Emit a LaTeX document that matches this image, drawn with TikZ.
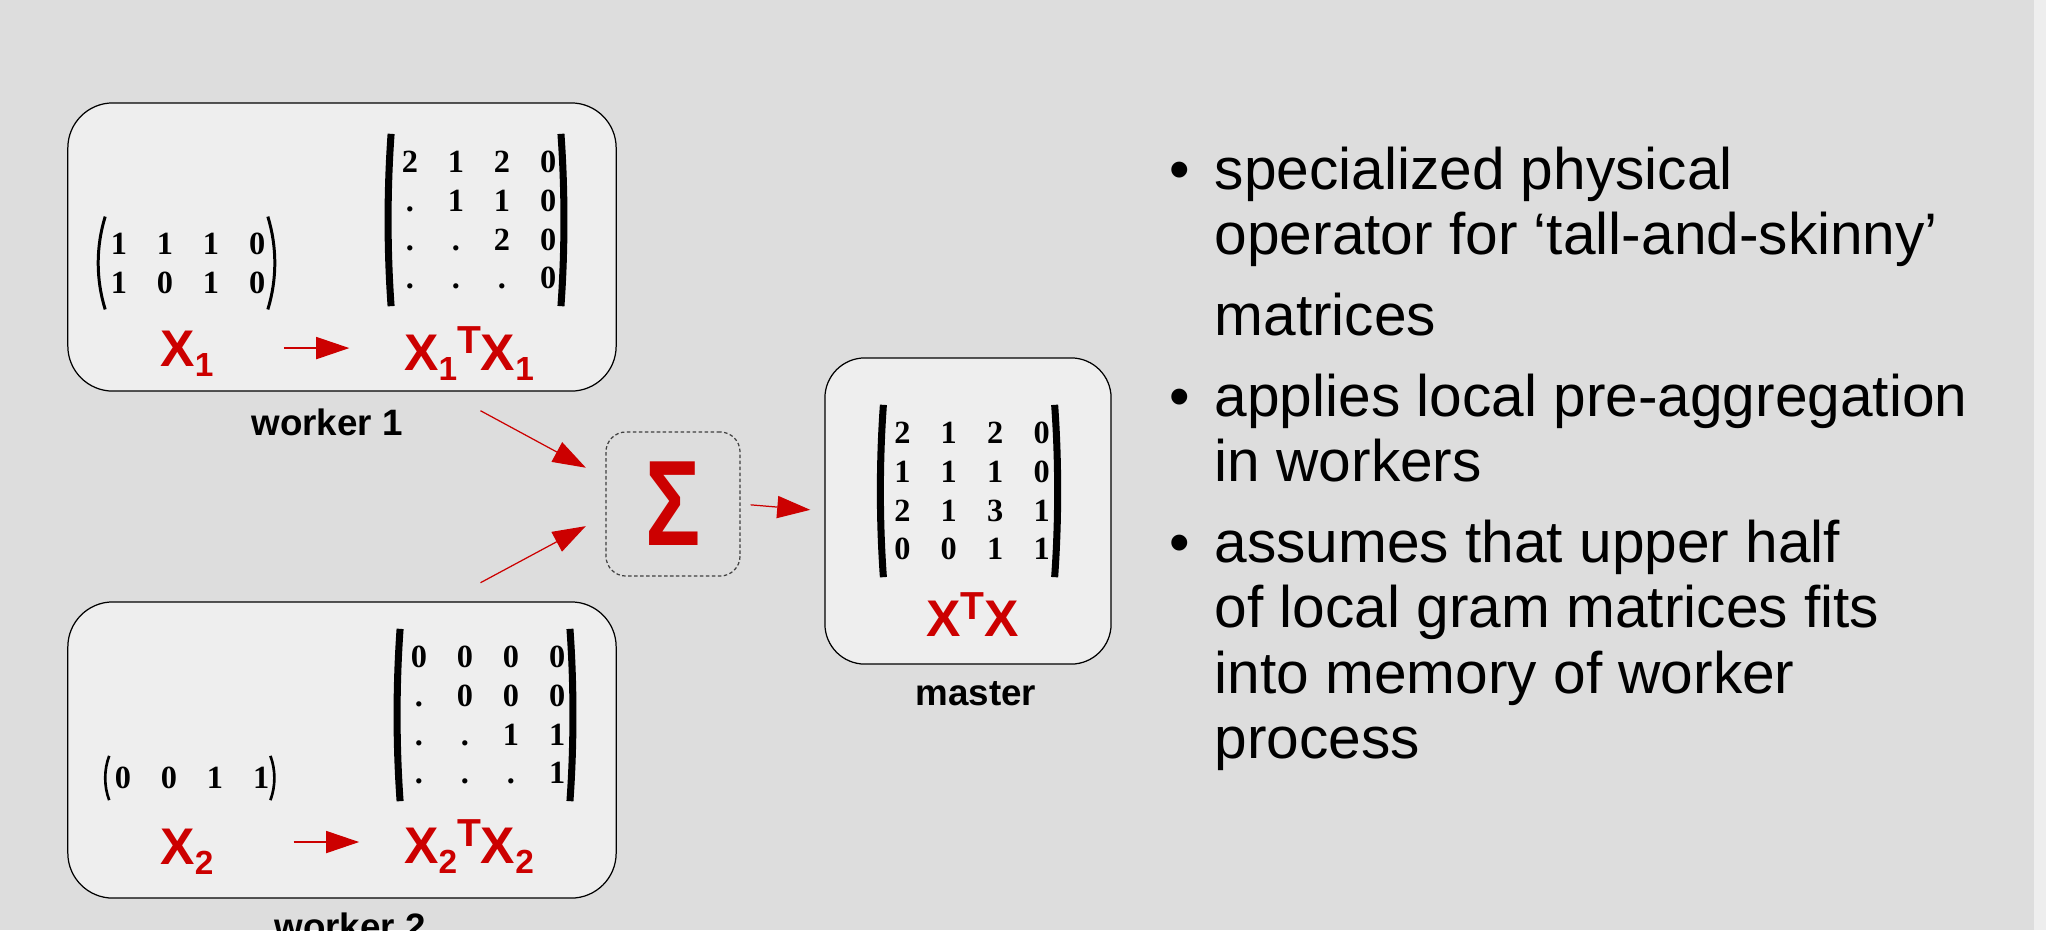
\documentclass[tikz,border=0pt]{standalone}
\usepackage{fontspec}
\usepackage{graphicx}
\setmainfont{Liberation Sans}
\newfontfamily\matfont{Liberation Serif}
\usetikzlibrary{matrix,arrows.meta}
\definecolor{slidebg}{HTML}{DDDDDD}
\definecolor{boxfill}{HTML}{EEEEEE}
\definecolor{hlred}{HTML}{CC0000}

% index and transpose marks of the red labels
\newcommand\subidx[1]{\raisebox{-3.1pt}{\fontsize{9.5}{9.5}\selectfont #1}}
\newcommand\trsp{\raisebox{4.8pt}{\fontsize{11.1}{11.1}\selectfont T}}
% parentheses round a matrix: name, overhang, ctrl y, ctrl x, width, left inset, right inset
\newcommand\matparens[7]{%
  \draw[line width=#5] ([xshift=#6,yshift=#2]#1.north west) .. controls +(-#4,-#3) and +(-#4,#3) .. ([xshift=#6,yshift=-#2]#1.south west);
  \draw[line width=#5] ([xshift=-#7,yshift=#2]#1.north east) .. controls +(#4,-#3) and +(#4,#3) .. ([xshift=-#7,yshift=-#2]#1.south east);}

\begin{document}
\begin{tikzpicture}[x=0.01cm, y=-0.01cm,
  panel/.style={draw, line width=0.35pt, fill=boxfill, rounded corners=0.45cm},
  sumbox/.style={draw=black!75, line width=0.35pt, dash pattern=on 1pt off 0.7pt, rounded corners=0.2cm,
    minimum width=1.34cm, minimum height=1.44cm, inner sep=0pt, text=hlred, font=\fontsize{26.2}{26.2}\selectfont\bfseries},
  gram/.style={matrix of nodes, inner sep=0pt, column sep=0pt, row sep=0pt,
    nodes={inner sep=0pt, minimum width=13.1pt, minimum height=11pt, text height=6.2pt, text depth=0pt,
      font=\fontsize{9.2}{9.2}\matfont\bfseries}},
  redlbl/.style={anchor=base, inner sep=0pt, text=hlred, font=\fontsize{14.65}{16}\selectfont\bfseries},
  boxlabel/.style={anchor=base, inner sep=0pt, font=\fontsize{10.45}{12}\selectfont\bfseries},
  redarr/.style={draw=hlred, line width=0.35pt, -{Triangle[length=9.4pt, width=6.3pt]}},
  bullettext/.style={anchor=base west, inner sep=0pt, font=\fontsize{16.67}{20}\selectfont}]
  \useasboundingbox (0,0) rectangle (2046,930);
  \fill[slidebg] (0,0) rectangle (2046,930);
  \fill[boxfill] (2034,0) rectangle (2046,930);

  % workers
  \node[panel, minimum width=5.48cm, minimum height=2.88cm] (w1) at (342,247) {};
  \node[panel, minimum width=5.48cm, minimum height=2.96cm] (w2) at (342,750) {};
  \node[boxlabel] (w1lbl) at (327,435) {worker 1};
  \node[boxlabel] (w2lbl) at (350,939) {worker 2};

  \matrix (m1) [gram] at (188,263) {1 & 1 & 1 & 0\\ 1 & 0 & 1 & 0\\};
  \matparens{m1}{2pt}{8.6pt}{2.65pt}{0.85pt}{2.85pt}{3.7pt}
  \matrix (g1) [gram] at (479,220) {2 & 1 & 2 & 0\\ . & 1 & 1 & 0\\ . & . & 2 & 0\\ . & . & . & 0\\};
  \matparens{g1}{2.3pt}{16pt}{1.14pt}{2pt}{1.4pt}{3.1pt}
  \matrix (m2) [gram] at (192,778) {0 & 0 & 1 & 1\\};
  \matparens{m2}{0.6pt}{4pt}{1.5pt}{0.75pt}{2.85pt}{4.1pt}
  \matrix (g2) [gram] at (488,715) {0 & 0 & 0 & 0\\ . & 0 & 0 & 0\\ . & . & 1 & 1\\ . & . & . & 1\\};
  \matparens{g2}{2.3pt}{16pt}{1.14pt}{2pt}{1.4pt}{3.1pt}

  \node[redlbl] (x1) at (187,366) {X\subidx{1}};
  \node[redlbl] (x1t) at (469,370) {X\subidx{1}\trsp X\subidx{1}};
  \node[redlbl] (x2) at (187,864) {X\subidx{2}};
  \node[redlbl] (x2t) at (469,863) {X\subidx{2}\trsp X\subidx{2}};
  \draw[redarr, shorten <=19.8pt, shorten >=15.4pt] ([yshift=5.1pt]x1.base east) -- ([yshift=5.1pt]x1.base east -| x1t.west);
  \draw[redarr, shorten <=22.6pt, shorten >=12.6pt] ([yshift=6.25pt]x2.base east) -- ([yshift=6.25pt]x2.base east -| x2t.west);

  % aggregation
  \node[sumbox] (sum) at (673,504) {\scalebox{1}[1.32]{Σ}};
  \coordinate (in1) at (480.5,410.7);
  \coordinate (in2) at (480.5,582.7);
  \coordinate (join) at (640,497);
  \draw[redarr, shorten >=17.5pt] (in1) -- (join);
  \draw[redarr, shorten >=17.5pt] (in2) -- (join);

  % master
  \node[panel, minimum width=2.86cm, minimum height=3.06cm, rounded corners=0.4cm] (mst) at (968,511) {};
  \node[boxlabel] (mstlbl) at (976,705) {master};
  \matrix (gm) [gram, nodes={minimum width=13.2pt}] at (972,491) {2 & 1 & 2 & 0\\ 1 & 1 & 1 & 0\\ 2 & 1 & 3 & 1\\ 0 & 0 & 1 & 1\\};
  \matparens{gm}{2.3pt}{16pt}{1.14pt}{2pt}{1.4pt}{3.1pt}
  \node[redlbl] (xtx) at (972.5,636) {X\trsp X};
  \draw[redarr, shorten <=2.85pt, shorten >=4pt] (sum.east) -- (mst.west);

  % bullet list
  \foreach \y [count=\i] in {189,416,562}
    \node[anchor=base, inner sep=0pt, font=\fontsize{16.67}{20}\selectfont] (dot\i) at (1180,\y) {\textbullet};
  \foreach \y/\t [count=\i] in {189/specialized physical, 254/operator for ‘tall-and-skinny’, 335/matrices,
      416/applies local pre-aggregation, 481/in workers, 562/assumes that upper half,
      627/of local gram matrices fits, 693/into memory of worker, 758/process}
    \node[bullettext] (ln\i) at (1214,\y) {\t};
\end{tikzpicture}
\end{document}
